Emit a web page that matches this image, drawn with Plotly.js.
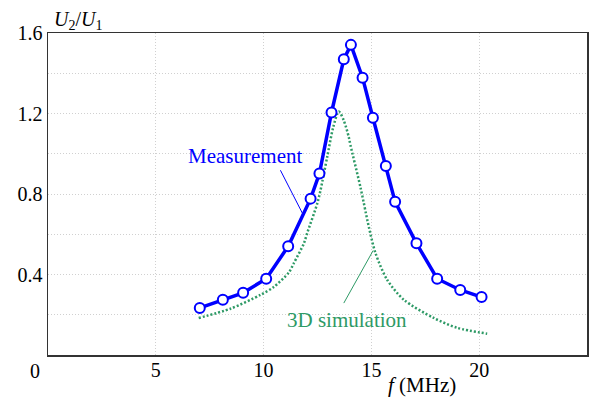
<!DOCTYPE html>
<html>
<head>
<meta charset="utf-8">
<script src="https://cdn.plot.ly/plotly-3.0.1.min.js"></script>
<style>html,body{margin:0;padding:0;background:#fff;}#chart{width:596px;height:398px;}</style>
</head>
<body>
<div id="chart"></div>
<script>
// Measurement (MHz, U2/U1)
const measFreq = [7.04, 8.11, 9.05, 10.12, 11.14, 12.18, 12.59, 13.15, 13.72, 14.05, 14.59, 15.07, 15.67, 16.10, 17.09, 18.05, 19.12, 20.11];
const measRatio = [0.234, 0.275, 0.309, 0.379, 0.540, 0.777, 0.902, 1.205, 1.469, 1.541, 1.378, 1.179, 0.939, 0.761, 0.555, 0.379, 0.323, 0.288];
// 3D simulation
const simFreq = [6.99, 8.46, 9.86, 10.47, 11.17, 11.40, 11.87, 12.02, 12.49, 12.64, 12.95, 13.23, 13.49, 13.72, 13.95, 14.03, 14.49, 14.88, 15.19, 15.73, 16.50, 17.89, 18.98, 20.37];
const simRatio = [0.184, 0.230, 0.299, 0.338, 0.410, 0.456, 0.555, 0.605, 0.753, 0.819, 0.984, 1.132, 1.210, 1.165, 1.083, 1.042, 0.835, 0.637, 0.506, 0.374, 0.275, 0.184, 0.135, 0.106];
const xTicks = [5, 10, 15, 20, 25];
const yTicks = [0.4, 0.8, 1.2, 1.6];

const FONT = 'Liberation Serif';
const BLUE = '#0000ff';
const GREEN = '#2e9a66';
const GRID = '#d0d0d0';

const traces = [
  {x: simFreq, y: simRatio, mode: 'lines', type: 'scatter', name: '3D simulation',
   line: {color: GREEN, width: 2.5, dash: '2px,2px', shape: 'spline', smoothing: 0.8}},
  {x: measFreq, y: measRatio, mode: 'lines+markers', type: 'scatter', name: 'Measurement',
   line: {color: BLUE, width: 3.5},
   marker: {symbol: 'circle', size: 10, color: '#ffffff', line: {color: BLUE, width: 2}}}
];

const layout = {
  width: 596, height: 398,
  margin: {l: 47.5, r: 9, t: 33, b: 43, pad: 0},
  paper_bgcolor: '#fff', plot_bgcolor: '#fff',
  showlegend: false,
  font: {family: FONT, size: 20, color: '#000'},
  xaxis: {
    range: [0, 25], tickvals: xTicks, ticks: '', showline: true, mirror: true,
    linecolor: '#333', linewidth: 1.5, showgrid: true, gridcolor: GRID, griddash: '1px,2px', gridwidth: 1,
    zeroline: false, ticklabelstandoff: -4, tickfont: {family: FONT, size: 20, color: '#000'}
  },
  yaxis: {
    range: [0, 1.6], tickvals: yTicks, ticktext: yTicks.map(v => v.toFixed(1)), ticks: '', showline: true, mirror: true,
    linecolor: '#333', linewidth: 1.5, showgrid: true, gridcolor: GRID, griddash: '1px,2px', gridwidth: 1,
    minor: {dtick: 0.2, tick0: 0, showgrid: true, gridcolor: GRID, griddash: '1px,2px', gridwidth: 1, ticks: ''},
    zeroline: false, tickfont: {family: FONT, size: 20, color: '#000'}
  },
  shapes: [
    {type: 'line', xref: 'x', yref: 'y', x0: 10.78, y0: 0.918, x1: 11.84, y1: 0.696, line: {color: BLUE, width: 1}},
    {type: 'line', xref: 'x', yref: 'y', x0: 13.72, y0: 0.258, x1: 15.08, y1: 0.519, line: {color: GREEN, width: 1}}
  ],
  annotations: [
    {xref: 'x', yref: 'y', x: 9.16, y: 0.988, text: 'Measurement', showarrow: false,
     font: {family: FONT, size: 21, color: BLUE}, xanchor: 'center', yanchor: 'middle'},
    {xref: 'x', yref: 'y', x: 13.88, y: 0.176, text: '3D simulation', showarrow: false,
     font: {family: FONT, size: 21, color: GREEN}, xanchor: 'center', yanchor: 'middle'},
    {xref: 'paper', yref: 'paper', x: 0.694, y: 0, yshift: -30, text: '<i>f</i> (MHz)', showarrow: false,
     font: {family: FONT, size: 21, color: '#000'}, xanchor: 'center', yanchor: 'middle'},
    {xref: 'paper', yref: 'paper', x: 0.008, y: 1, yshift: 13, text: '<i>U</i><sub>2</sub>/<i>U</i><sub>1</sub>', showarrow: false,
     font: {family: FONT, size: 20, color: '#000'}, xanchor: 'left', yanchor: 'middle'},
    {xref: 'paper', yref: 'paper', x: 0, y: 0, xshift: -13, yshift: -16, text: '0', showarrow: false,
     font: {family: FONT, size: 20, color: '#000'}, xanchor: 'center', yanchor: 'middle'}
  ]
};

Plotly.newPlot('chart', traces, layout, {displayModeBar: false, staticPlot: true});
</script>
</body>
</html>
